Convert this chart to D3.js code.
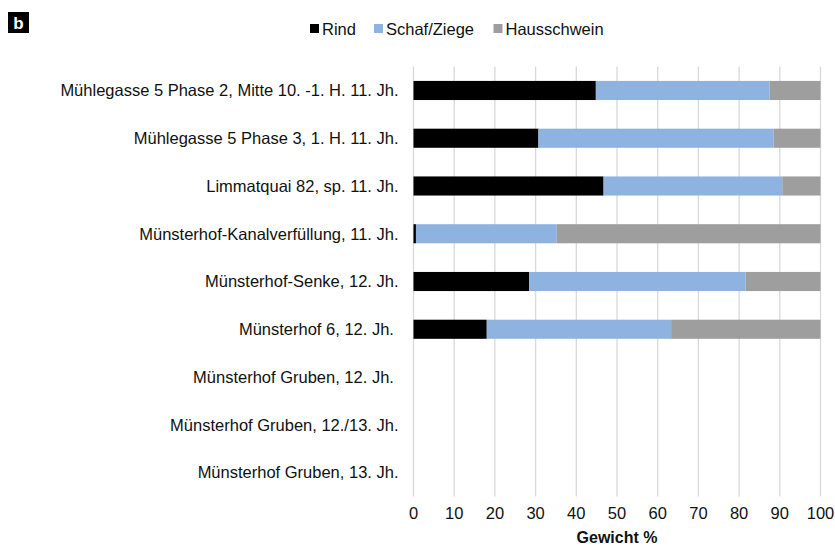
<!DOCTYPE html>
<html>
<head>
<meta charset="utf-8">
<script src="https://cdn.jsdelivr.net/npm/d3@7"></script>
<style>
  body { margin: 0; background: #fff; }
  svg { display: block; font-family: "Liberation Sans", Arial, sans-serif; }
  .cat { white-space: pre; }
</style>
</head>
<body>
<svg id="chart"></svg>
<script>
const categories = [
  "Mühlegasse 5 Phase 2, Mitte 10. -1. H. 11. Jh.",
  "Mühlegasse 5 Phase 3, 1. H. 11. Jh.",
  "Limmatquai 82, sp. 11. Jh.",
  "Münsterhof-Kanalverfüllung, 11. Jh.",
  "Münsterhof-Senke, 12. Jh.",
  "Münsterhof 6, 12. Jh. ",
  "Münsterhof Gruben, 12. Jh. ",
  "Münsterhof Gruben, 12./13. Jh.",
  "Münsterhof Gruben, 13. Jh."
];
const rind = [44.8, 30.7, 46.7, 0.6, 28.4, 18.0, null, null, null];
const schafZiege = [42.7, 57.8, 43.9, 34.6, 53.2, 45.3, null, null, null];
const hausschwein = [12.5, 11.5, 9.4, 64.8, 18.4, 36.7, null, null, null];
const seriesNames = ["Rind", "Schaf/Ziege", "Hausschwein"];
const seriesColors = ["#000000", "#8fb3e0", "#9d9e9d"];
const xTicks = [0, 10, 20, 30, 40, 50, 60, 70, 80, 90, 100];

(function() {
  const width = 835,
    height = 547,
    fontSize = 16.5;

  const svg = d3.select("#chart")
    .attr("width", width)
    .attr("height", height);

  const x = d3.scaleLinear()
    .domain([0, 100])
    .range([413.5, 820.5]);

  const y = d3.scaleBand()
    .domain(categories)
    .range([66.6, 496.4])
    .paddingInner(0.6)
    .paddingOuter(0.3);

  // gridlines
  svg.append("g")
    .selectAll("line")
    .data(xTicks)
    .enter()
    .append("line")
    .attr("x1", d => x(d))
    .attr("x2", d => x(d))
    .attr("y1", y.range()[0])
    .attr("y2", y.range()[1])
    .attr("stroke", "#d9d9d9")
    .attr("stroke-width", 1.3);

  // stacked bars
  const rows = categories.map((c, i) => ({
    cat: c,
    "Rind": rind[i],
    "Schaf/Ziege": schafZiege[i],
    "Hausschwein": hausschwein[i]
  })).filter(d => d.Rind !== null);

  const stack = d3.stack().keys(seriesNames)(rows);

  svg.append("g")
    .selectAll("g")
    .data(stack)
    .enter()
    .append("g")
    .attr("fill", (d, i) => seriesColors[i])
    .selectAll("rect")
    .data(d => d)
    .enter()
    .append("rect")
    .attr("x", d => x(d[0]))
    .attr("width", d => x(d[1]) - x(d[0]))
    .attr("y", d => y(d.data.cat))
    .attr("height", y.bandwidth());

  // category labels
  svg.append("g")
    .selectAll("text")
    .data(categories)
    .enter()
    .append("text")
    .attr("class", "cat")
    .attr("x", 398.5)
    .attr("y", d => y(d) + y.bandwidth() / 2)
    .attr("dy", "0.36em")
    .attr("text-anchor", "end")
    .attr("font-size", fontSize)
    .attr("fill", "#111")
    .text(d => d);

  // x tick labels
  svg.append("g")
    .selectAll("text")
    .data(xTicks)
    .enter()
    .append("text")
    .attr("x", d => x(d))
    .attr("y", 518.5)
    .attr("text-anchor", "middle")
    .attr("font-size", fontSize)
    .attr("fill", "#111")
    .text(d => d);

  svg.append("text")
    .attr("x", (x.range()[0] + x.range()[1]) / 2)
    .attr("y", 543)
    .attr("text-anchor", "middle")
    .attr("font-size", 16)
    .attr("font-weight", "bold")
    .attr("fill", "#111")
    .text("Gewicht %");

  // legend
  const legendX = [310, 374, 493.5];
  const legend = svg.append("g")
    .selectAll("g")
    .data(seriesNames)
    .enter()
    .append("g")
    .attr("transform", (d, i) => "translate(" + legendX[i] + ",0)");

  legend.append("rect")
    .attr("x", 0)
    .attr("y", 24)
    .attr("width", 9)
    .attr("height", 9)
    .attr("fill", (d, i) => seriesColors[i]);

  legend.append("text")
    .attr("x", 12)
    .attr("y", 34.5)
    .attr("font-size", fontSize)
    .attr("fill", "#111")
    .text(d => d);

  // panel letter
  svg.append("rect")
    .attr("x", 8)
    .attr("y", 12)
    .attr("width", 21)
    .attr("height", 21)
    .attr("fill", "#000");

  svg.append("text")
    .attr("x", 18.5)
    .attr("y", 29)
    .attr("text-anchor", "middle")
    .attr("font-size", 17)
    .attr("font-weight", "bold")
    .attr("fill", "#fff")
    .text("b");
})();
</script>
</body>
</html>
